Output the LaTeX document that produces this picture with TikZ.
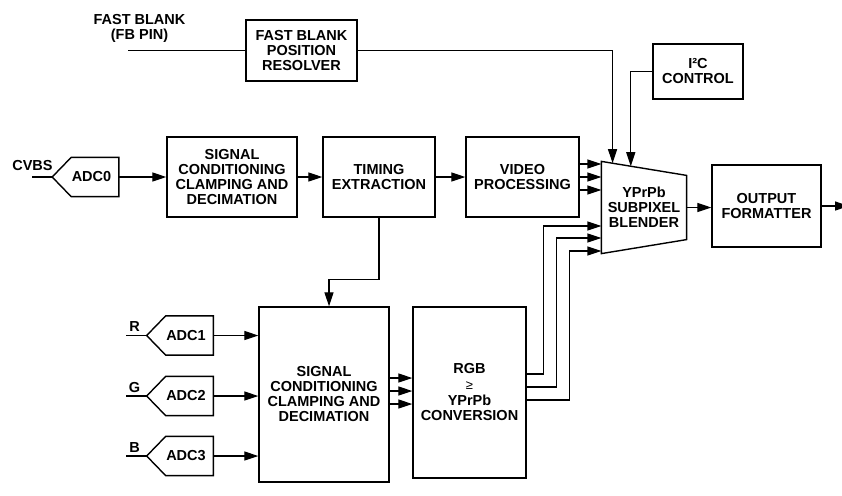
\documentclass[tikz,border=0pt]{standalone}
\usepackage{fontspec}
\setmainfont{Liberation Sans}
\usetikzlibrary{arrows.meta,calc}

\begin{document}
\begin{tikzpicture}[x=1pt, y=-1pt, line width=1.2pt, font=\bfseries\fontsize{14.5}{15}\selectfont]
        \tikzstyle{block}=[draw, line width=1.4pt, align=center, inner sep=2pt]
        \tikzstyle{edge}=[-{Triangle[length=14pt,width=9pt]}]
        \tikzstyle{adc}=[minimum width=46pt, minimum height=38pt, inner sep=0pt, execute at end node=\hspace*{7pt}]
        \tikzstyle{lbl}=[inner sep=0pt, align=center]

        \useasboundingbox (0,0) rectangle (842,495);

        % blocks
        \node[block, minimum width=111pt, minimum height=61pt] (FB) at (301.5,50.5) {FAST BLANK\\POSITION\\RESOLVER};
        \node[block, minimum width=90pt, minimum height=55pt] (I2C) at (698,71.5) {I²C\\CONTROL};
        \node[block, minimum width=130pt, minimum height=80pt] (SC1) at (232,177) {SIGNAL\\CONDITIONING\\CLAMPING AND\\DECIMATION};
        \node[block, minimum width=112pt, minimum height=80pt] (TE) at (379,177) {TIMING\\EXTRACTION};
        \node[block, minimum width=113pt, minimum height=80pt] (VP) at (522.5,177) {VIDEO\\PROCESSING};
        \node[minimum width=84pt, minimum height=91pt, inner sep=0pt, align=center] (BL) at (644,207.5) {YPrPb\\SUBPIXEL\\BLENDER};
        \node[block, minimum width=109pt, minimum height=82pt] (OF) at (766.5,206) {OUTPUT\\FORMATTER};
        \node[block, minimum width=130pt, minimum height=175pt] (SC2) at (324,394.5) {SIGNAL\\CONDITIONING\\CLAMPING AND\\DECIMATION};
        \node[block, minimum width=113pt, minimum height=171pt] (RGB) at (469.5,392.5) {RGB\\[1pt]{\mdseries\fontsize{13}{13}\selectfont ≥}\\[1pt]YPrPb\\CONVERSION};

        % blender outline
        \coordinate (BLne) at ([yshift=-14pt]BL.north east);
        \coordinate (BLse) at ([yshift=14pt]BL.south east);
        \draw[line width=1.4pt] (BL.north west) -- (BLne) -- (BLse) -- (BL.south west) -- cycle;
        \coordinate (BLfb) at ($(BL.north west)!0.131!(BLne)$);
        \coordinate (BLi2c) at ($(BL.north west)!0.345!(BLne)$);

        % converters
        \node[adc] (A0) at (95,177) {ADC0};
        \node[adc] (A1) at (189.5,335.5) {ADC1};
        \node[adc] (A2) at (189.5,396) {ADC2};
        \node[adc] (A3) at (189.5,456) {ADC3};
        \foreach \a in {A0,A1,A2,A3}
            \draw[line width=1.4pt] (\a.north west) -- (\a.north east) -- (\a.south east) -- (\a.south west) -- ([xshift=-19pt]\a.west) -- cycle;

        % inputs
        \node[lbl] (fb-l) at (139.5,28) {FAST BLANK\\(FB PIN)};
        \coordinate (fbin) at (128,50.5);
        \node[lbl] (cvbs-l) at (32.5,166) {CVBS};
        \coordinate (cvbs) at (32,177);
        \node[lbl] (r-l) at (134.5,327) {R};
        \node[lbl] (g-l) at (134.5,388) {G};
        \node[lbl] (b-l) at (134.5,448) {B};
        \coordinate (rin) at (126,335.5);
        \coordinate (gin) at (126,396);
        \coordinate (bin) at (126,456);
        \coordinate (out) at (849,206);

        \draw (fbin) -- (FB.west);
        \draw (cvbs) -- ([xshift=-19pt]A0.west);
        \draw (rin) -- ([xshift=-19pt]A1.west);
        \draw (gin) -- ([xshift=-19pt]A2.west);
        \draw (bin) -- ([xshift=-19pt]A3.west);

        \path[edge]
            (A0) edge (SC1)
            (SC1) edge (TE)
            (TE) edge (VP)
            (A1.east) edge (A1.east -| SC2.west)
            (A2.east) edge (A2.east -| SC2.west)
            (A3.east) edge (A3.east -| SC2.west)
            (BL.east) edge (BL.east -| OF.west)
            (OF.east) edge (out)
        ;

        \draw[edge] (FB.east) -| (BLfb);
        \draw[edge] (I2C.west) -| (BLi2c);
        \draw[edge] (TE.south) -- ++(0,62) -| ([xshift=5pt]SC2.north);

        \foreach \d in {13,0,-13}
            \draw[edge] ([yshift=\d pt]VP.east) coordinate (s) -- (s -| BL.west);
        \foreach \d in {16.5,3.5,-9.5}
            \draw[edge] ([yshift=\d pt]SC2.east) coordinate (s) -- (s -| RGB.west);

        \draw[edge] ([yshift=18.5pt]RGB.east) -- ++(17,0) |- ([yshift=-18.5pt]BL.west);
        \draw[edge] ([yshift=5.5pt]RGB.east) -- ++(30,0) |- ([yshift=-30.5pt]BL.west);
        \draw[edge] ([yshift=-7.5pt]RGB.east) -- ++(43,0) |- ([yshift=-43.5pt]BL.west);
    \end{tikzpicture}
\end{document}
